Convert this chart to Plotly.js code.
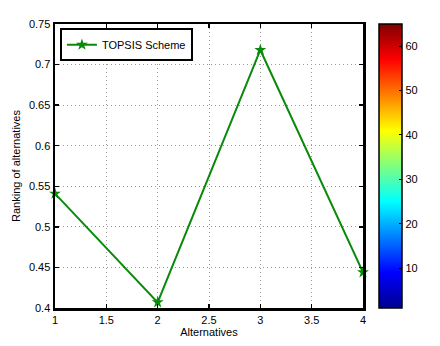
<!DOCTYPE html>
<html>
<head>
<meta charset="utf-8">
<script src="https://cdn.plot.ly/plotly-3.0.1.min.js"></script>
<style>
  body { margin: 0; background: #fff; }
  #chart { width: 440px; height: 346px; }
</style>
</head>
<body>
<div id="chart"></div>
<script>
// values
const alternatives = [1, 2, 3, 4];
const topsisScores = [0.541, 0.407, 0.718, 0.444];
const xTicks = [1, 1.5, 2, 2.5, 3, 3.5, 4];
const yTicks = [0.4, 0.45, 0.5, 0.55, 0.6, 0.65, 0.7, 0.75];
const colorRange = [1, 65];
const colorTicks = [10, 20, 30, 40, 50, 60];

// MATLAB jet
const jet = [
    [0, 'rgb(0,0,143)'],
    [0.125, 'rgb(0,0,255)'],
    [0.375, 'rgb(0,255,255)'],
    [0.625, 'rgb(255,255,0)'],
    [0.875, 'rgb(255,0,0)'],
    [1, 'rgb(128,0,0)']
];

const fontFam = 'Liberation Sans, Arial, sans-serif';

const lineTrace = {
    x: alternatives,
    y: topsisScores,
    mode: 'lines+markers',
    name: 'TOPSIS Scheme',
    cliponaxis: false,
    line: {color: '#0a8a0a', width: 2},
    marker: {symbol: 'star', size: 9, color: '#0a8a0a'}
};

// dummy trace only to carry the colorbar
const cbarTrace = {
    x: [alternatives[0], alternatives[0]],
    y: [yTicks[0], yTicks[0]],
    mode: 'markers',
    showlegend: false,
    hoverinfo: 'skip',
    marker: {
        color: colorRange,
        cmin: colorRange[0],
        cmax: colorRange[1],
        colorscale: jet,
        opacity: 0,
        showscale: true,
        colorbar: {
            x: 1.053,
            xanchor: 'left',
            y: 0.5,
            len: 1,
            thickness: 23,
            xpad: 0,
            ypad: 0,
            outlinewidth: 1.5,
            outlinecolor: '#000',
            tickvals: colorTicks,
            ticks: 'inside',
            ticklen: 3,
            tickcolor: '#000',
            tickfont: {size: 11, color: '#000', family: fontFam}
        }
    }
};

const axisCommon = {
    showline: true,
    linewidth: 2.5,
    linecolor: '#000',
    mirror: 'ticks',
    ticks: 'inside',
    ticklen: 4,
    tickwidth: 1.5,
    tickcolor: '#000',
    showgrid: true,
    gridcolor: '#9a9a9a',
    griddash: '1px,3px',
    gridwidth: 1,
    zeroline: false,
    layer: 'above traces',
    tickfont: {size: 11, color: '#000', family: fontFam}
};

const layout = {
    width: 440,
    height: 346,
    margin: {l: 55, r: 77, t: 24, b: 38},
    paper_bgcolor: '#fff',
    plot_bgcolor: '#fff',
    font: {family: fontFam, color: '#000', size: 11},
    showlegend: true,
    legend: {
        x: 0.016,
        y: 0.985,
        xanchor: 'left',
        yanchor: 'top',
        bgcolor: '#fff',
        bordercolor: '#000',
        borderwidth: 2,
        itemwidth: 30,
        font: {size: 11, color: '#000', family: fontFam}
    },
    xaxis: Object.assign({}, axisCommon, {
        range: [1, 4],
        tickvals: xTicks,
        title: {text: 'Alternatives', standoff: 4, font: {size: 11, family: fontFam}}
    }),
    yaxis: Object.assign({}, axisCommon, {
        range: [0.4, 0.75],
        tickvals: yTicks,
        title: {text: 'Ranking of alternatives', standoff: 6, font: {size: 11, family: fontFam}}
    })
};

Plotly.newPlot('chart', [lineTrace, cbarTrace], layout, {displayModeBar: false, staticPlot: true});
</script>
</body>
</html>
